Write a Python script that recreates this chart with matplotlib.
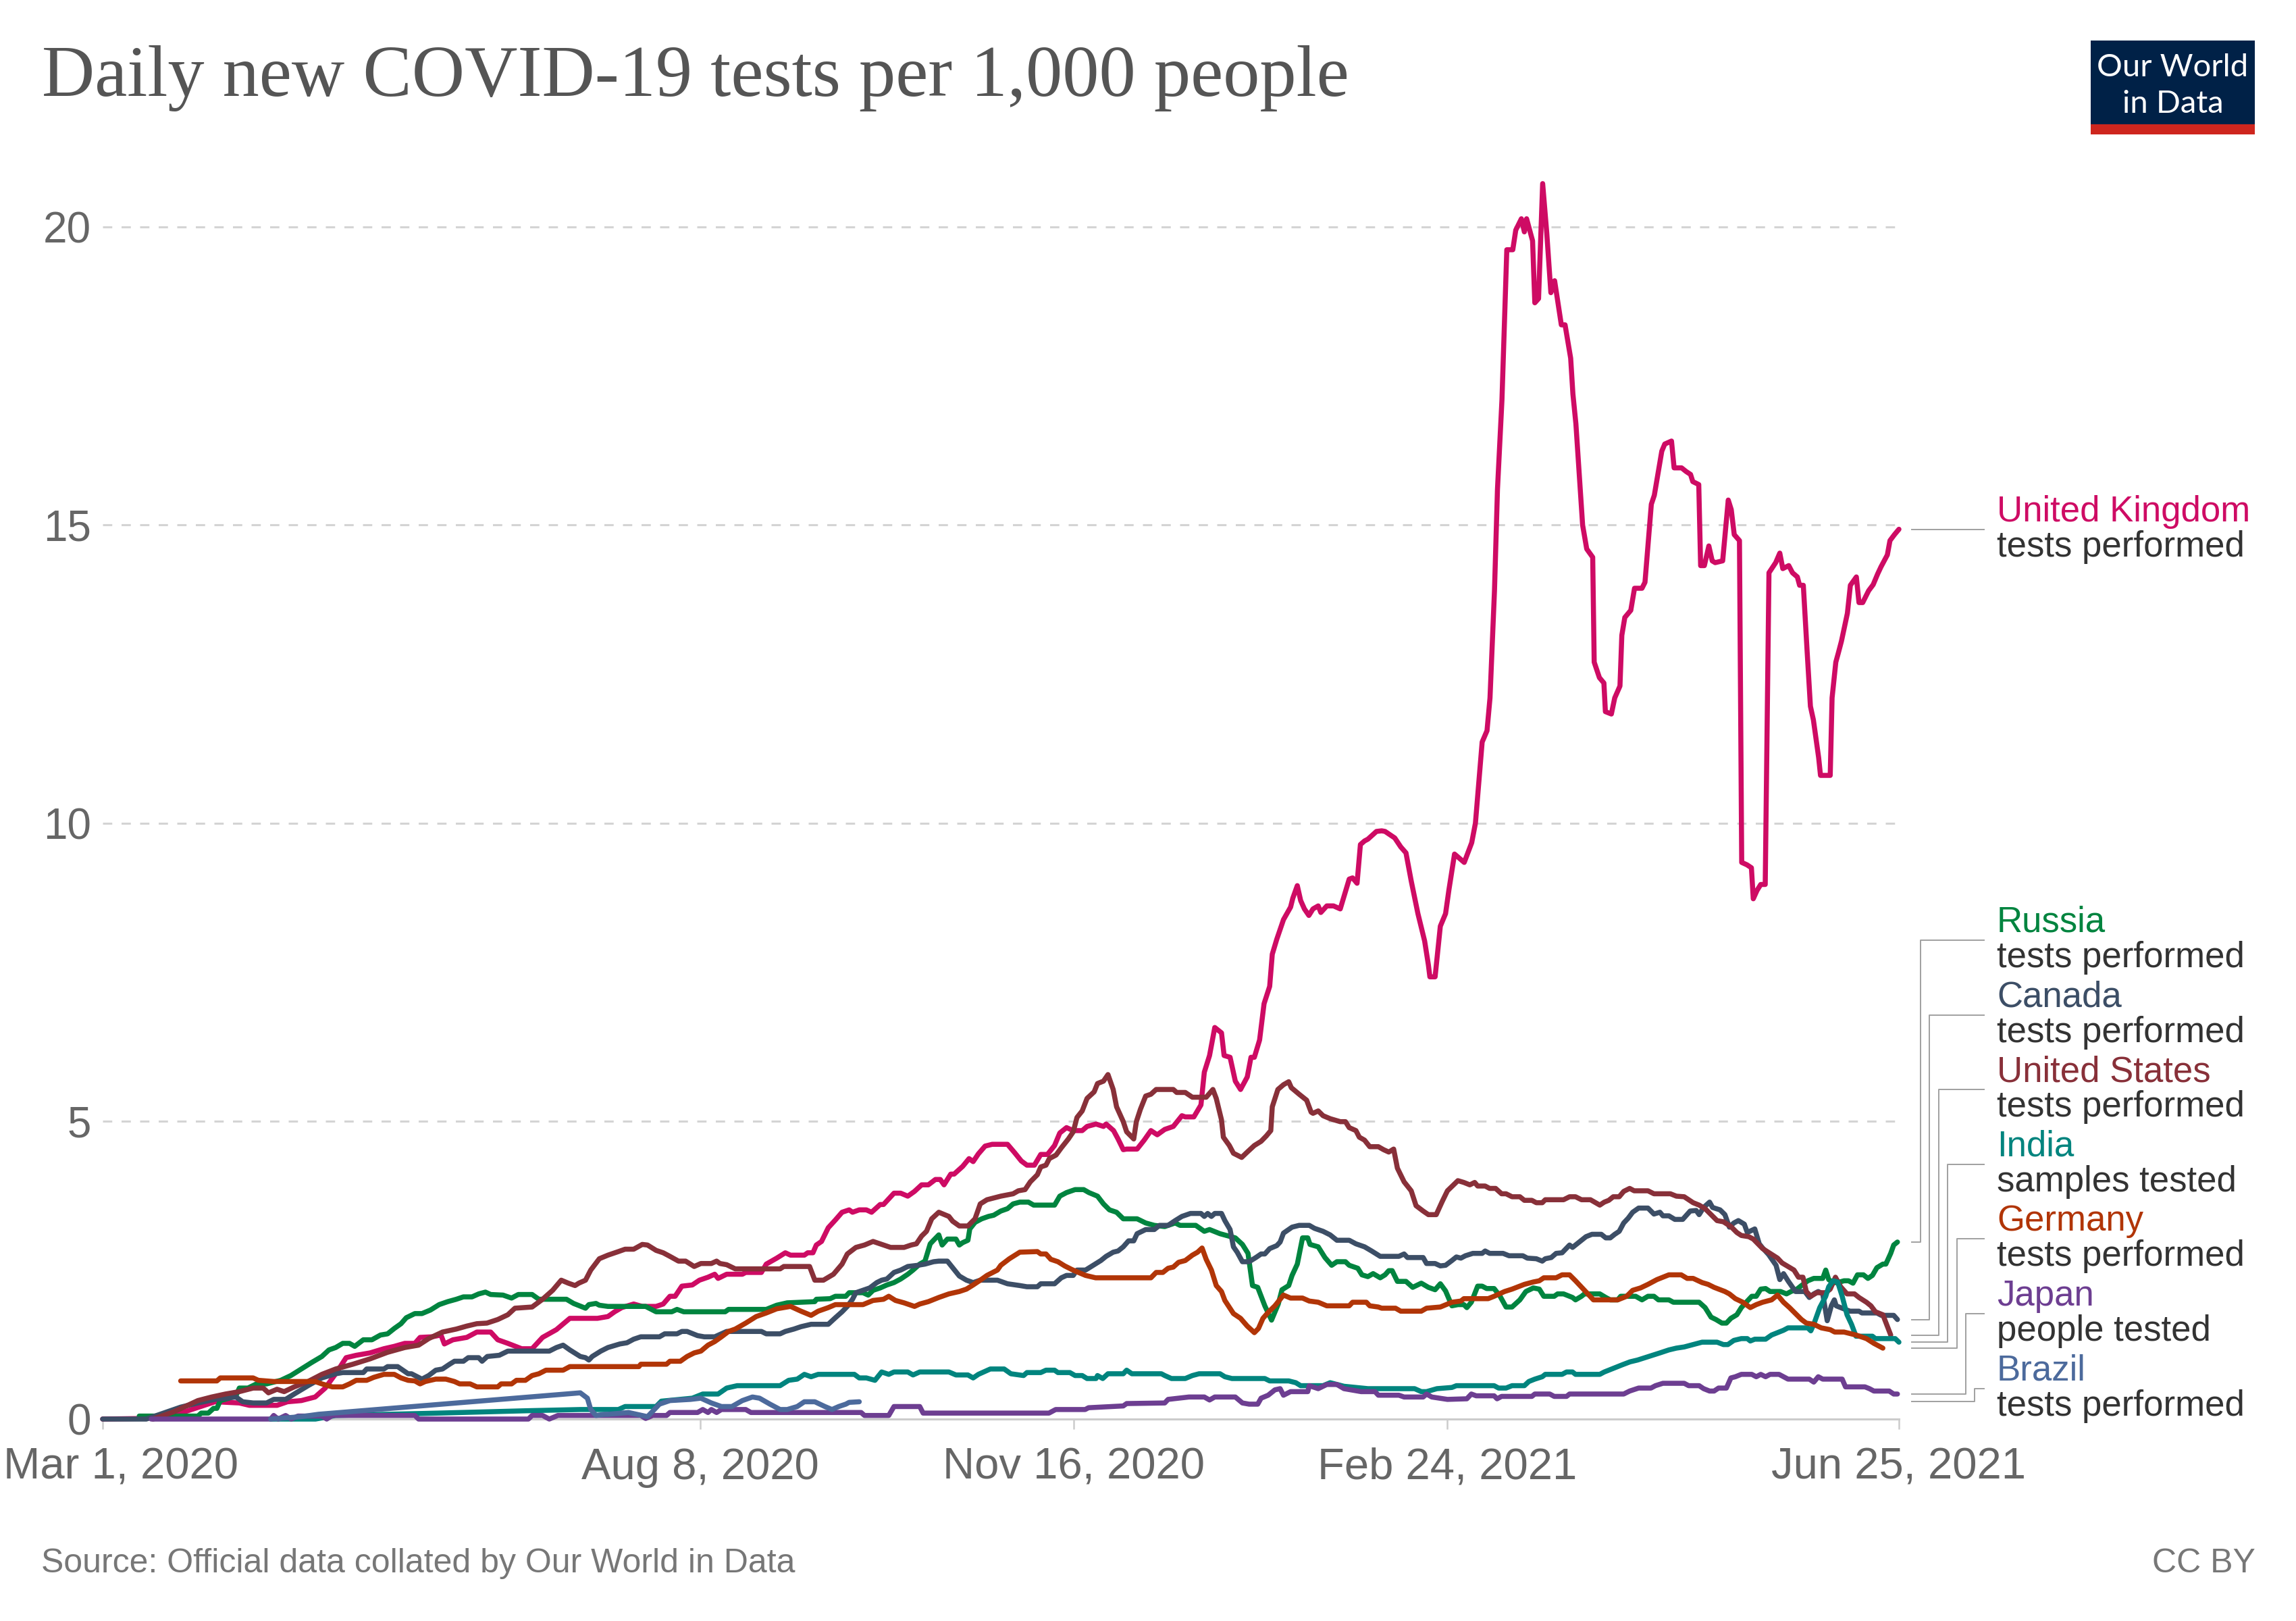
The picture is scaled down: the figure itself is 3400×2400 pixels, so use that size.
import matplotlib
matplotlib.use('Agg')
import matplotlib.pyplot as plt
import matplotlib.transforms as mtransforms
import pandas as pd
from matplotlib.lines import Line2D
from matplotlib.patches import Rectangle

# ---------------- data (day offset from Mar 1, 2020, tests per 1,000) ----------------
START = '2020-03-01'
END_DAY = 481
tick_dates = ['2020-03-01', '2020-08-08', '2020-11-16', '2021-02-24', '2021-06-25']
tick_labels = ['Mar 1, 2020', 'Aug 8, 2020', 'Nov 16, 2020', 'Feb 24, 2021', 'Jun 25, 2021']
y_ticks = [0, 5, 10, 15, 20]

uk = [(0,0),(11.7,0.01),(20.9,0.1),(30.1,0.29),(36.6,0.27),(39.3,0.23),(46.7,0.23),(49.5,0.29),(53.2,0.31),(56.9,0.37),(59.6,0.52),(62.4,0.76),(65.2,1.03),(67.9,1.07),(71.6,1.11),(75.3,1.18),(78.1,1.22),(80.9,1.27),(83.6,1.27),(85,1.37),(88.2,1.38),(90.6,1.41),(91.5,1.26),(93.8,1.33),(97.5,1.37),(100.2,1.46),(103.9,1.46),(105.8,1.33),(108.5,1.27),(112.2,1.18),(115,1.18),(117.8,1.37),(121.5,1.5),(125.1,1.69),(132.5,1.69),
      (135.3,1.72),(137.1,1.8),(139,1.87),(142.2,1.93),(144.5,1.89),(148.2,1.89),(150.1,1.93),(151.9,2.06),(153.3,2.06),(155.1,2.23),(157.9,2.25),(159.8,2.33),(162.1,2.38),(163.9,2.43),(164.8,2.36),(167.1,2.43),(171.3,2.43),(172.2,2.46),(176.4,2.46),(177.7,2.6),(180.5,2.7),(182.8,2.79),(184.2,2.75),(187.9,2.75),(188.8,2.79),(190.2,2.79),(191.1,2.92),(192.5,2.98),(194.3,3.21),(196.2,3.34),(198,3.47),(199.9,3.51),(200.8,3.47),(202.6,3.51),(204.5,3.51),(205.9,3.47),(208.2,3.6),(209.1,3.6),(211.9,3.79),(213.7,3.79),(215.6,3.74),(217.4,3.82),(219.3,3.93),(221.1,3.93),(223,4.02),(224.3,4.02),(225.3,3.93),(227.1,4.11),(228,4.11),(230.3,4.24),(232,4.37),(233.1,4.32),(234.5,4.45),(236.3,4.58),(238.2,4.61),(242.3,4.61),
      (244.2,4.47),(246,4.33),(247.5,4.26),(249.5,4.26),(251.2,4.44),(253,4.44),(254.9,4.59),(256.3,4.8),(258.1,4.89),(259.9,4.84),(262.3,4.84),(263.6,4.91),(266,4.95),(268,4.91),(268.7,4.95),(270.7,4.84),(271.9,4.7),(273.3,4.52),(274.2,4.53),(277,4.53),(278.9,4.68),(280.7,4.84),(282.4,4.77),(284.4,4.86),(286.7,4.91),(289,5.09),(289.9,5.07),(292.2,5.07),(294.1,5.27),(295,5.82),(296.4,6.1),(297.8,6.57),(299.6,6.48),(300.3,6.1),(301.9,6.07),(303.3,5.67),(304.7,5.53),(306.5,5.74),(307.5,6.07),(308.4,6.07),(309.8,6.36),(311,6.97),(312.5,7.26),(313.2,7.8),(314.4,8.05),(316.2,8.38),(318.1,8.59),(318.7,8.74),(319.9,8.95),(320.8,8.7),(321.8,8.56),(323,8.45),(324.1,8.56),(325.5,8.61),(326.2,8.5),(327.8,8.61),(329.6,8.61),(331.4,8.56),(332.8,8.85),(333.8,9.06),(334.7,9.08),(335.9,8.99),(336.8,9.64),(337.9,9.7),(338.8,9.73),(341.1,9.86),(342.5,9.87),(343.4,9.86),(344.8,9.8),(346,9.75),(347.6,9.6),(349,9.5),(350.4,9.03),(352.2,8.48),(354,8.02),(355,7.62),(355.4,7.42),(356.8,7.42),(358.2,8.27),(359.6,8.48),(360.5,8.88),
      (362,9.48),(364.6,9.34),(366.6,9.67),(367.6,10.0),(369.4,11.36),(370.7,11.55),(371.5,12.1),(372.7,13.9),(373.5,15.6),(374.7,17.1),(376,19.62),(377.6,19.62),(378.4,19.95),(379.9,20.14),(380.7,19.92),(381.3,20.14),(382.9,19.77),(383.5,18.73),(384.5,18.8),(385.6,20.73),(386.7,19.9),(387.8,18.9),(388.8,19.1),(390.6,18.36),(391.6,18.36),(393.1,17.8),(393.7,17.2),(394.5,16.7),(396.3,15.0),(397.4,14.6),(399,14.46),(399.4,12.7),(400.8,12.44),(402,12.35),(402.4,11.87),(404,11.83),(404.9,12.1),(406.3,12.3),(406.8,13.15),(407.6,13.45),(409.2,13.57),(410.2,13.94),(412.2,13.94),(413,14.04),(414.7,15.35),(415.5,15.5),(417.5,16.24),(418.3,16.36),(420.1,16.41),(420.8,15.96),(422.8,15.96),(424,15.9),(425.2,15.85),(425.8,15.73),(427.4,15.68),(427.9,14.32),(428.9,14.32),(430.1,14.65),(431,14.4),(431.8,14.37),(433.8,14.4),(435.3,15.42),(436.1,15.26),(436.9,14.84),(438.3,14.74),(438.9,9.34),(440.3,9.3),(441.5,9.25),(442,8.73),(443,8.87),(444,8.97),(445.2,8.97),(446.2,14.2),(448,14.37),(449.1,14.53),(449.9,14.27),(451.5,14.32),(452.5,14.2),(453.8,14.13),(454.4,13.99),(455.4,13.99),(456.4,12.9),(457.3,11.96),(458.1,11.73),(459.5,11.1),(460,10.8),(462.6,10.8),(463.1,12.1),(464.1,12.7),(464.8,12.86),(465.6,13.05),(467.2,13.52),(468,13.99),(469.6,14.13),(470.3,13.7),(471.3,13.7),(472.9,13.9),(474.1,14.0),(475.3,14.18),(476.2,14.3),(477.9,14.5),(478.6,14.74),(479.8,14.84),(481,14.93)]

us = [(13.5,0),(19,0.12),(25.5,0.31),(29.2,0.37),(32.9,0.42),(36.6,0.46),(40.3,0.52),(43,0.52),(44.4,0.44),(46.7,0.5),(48.6,0.46),(51.3,0.54),(55,0.63),(58.7,0.75),(62.4,0.84),(67,0.92),(71.6,1.01),(76.3,1.12),(80.9,1.2),(84.6,1.24),(87.3,1.35),(91,1.46),(94.7,1.51),(97.5,1.56),(100.2,1.6),(102.9,1.61),(105.8,1.67),(108.5,1.75),(110.4,1.86),(115,1.88),(117.8,2.01),(120.5,2.16),(122.8,2.33),(124.7,2.28),(126.5,2.24),(127.5,2.28),(129.3,2.33),(130.7,2.5),(133,2.69),
      (135.3,2.75),(138.1,2.81),(139.9,2.85),(142.2,2.85),(144.5,2.93),(145.9,2.92),(148.2,2.83),(150.1,2.79),(151.9,2.73),(154.2,2.65),(156.1,2.65),(158.4,2.56),(160.2,2.61),(163,2.61),(164.4,2.65),(165.3,2.61),(167.1,2.59),(169.4,2.52),(181.4,2.52),(182.4,2.56),(189.3,2.56),(190.7,2.33),(193,2.33),(195.7,2.43),(198,2.6),(199.4,2.77),(201.7,2.88),(204,2.92),(206.3,2.98),(208.2,2.94),(211,2.88),(214.6,2.88),(216.5,2.92),(217.9,2.94),(219.3,3.07),(220.6,3.15),(222,3.36),(223.9,3.47),(226.6,3.4),(227.6,3.32),(229.4,3.24),(231.7,3.24),(233.6,3.36),(235,3.61),(236.8,3.68),(240.5,3.74),
      (243.8,3.78),(245.2,3.83),(247,3.85),(248.4,3.98),(250.3,4.1),(251.2,4.23),(252.6,4.26),(253.5,4.37),(255.3,4.43),(256.7,4.55),(258.6,4.7),(259.9,4.82),(260.9,5.06),(262.3,5.17),(263.6,5.38),(265.5,5.49),(266.4,5.63),(268,5.67),(269.2,5.78),(270.6,5.53),(271.5,5.24),(273.3,4.99),(274.2,4.82),(276.1,4.7),(276.8,4.99),(277.9,5.2),(279.3,5.42),(280.7,5.45),(282.1,5.53),(286.7,5.53),(287.6,5.48),(289.9,5.48),(291.8,5.4),(295.5,5.4),(297.3,5.53),(298.2,5.38),(299.6,5.02),(300.1,4.73),(301.7,4.59),(302.8,4.46),(305,4.39),(306.5,4.48),(308.4,4.59),(310.2,4.66),(311.6,4.75),(312.8,4.84),(313.2,5.24),(314.7,5.53),(316.2,5.61),(317.6,5.66),(318.3,5.56),(320.4,5.45),(322.4,5.35),(323.6,5.15),(324.1,5.13),(325.5,5.17),(326.8,5.09),(328.7,5.04),(331.4,4.99),(332.8,4.99),(333.8,4.89),(335.6,4.84),(336.5,4.73),(337.9,4.68),(339.3,4.57),(341.6,4.57),(343,4.52),(344.4,4.48),(345.7,4.53),(346.7,4.21),(348.5,3.98),(350.4,3.83),(351.7,3.58),(353.6,3.49),(355,3.43),(357.1,3.43),(358.7,3.65),(360.1,3.83),
      (362.9,4.0),(364.5,3.97),(366.1,3.93),(367.4,3.97),(368.2,3.91),(370.2,3.91),(371.4,3.87),(373,3.87),(374.6,3.78),(375.8,3.78),(377.4,3.73),(379.5,3.73),(380.7,3.67),(382.7,3.67),(383.9,3.63),(385.5,3.63),(386.3,3.68),(391.2,3.68),(392.8,3.73),(394.4,3.73),(396,3.68),(398.4,3.68),(400.9,3.59),(402.1,3.64),(403.3,3.67),(404.5,3.73),(406.1,3.73),(407.3,3.82),(408.9,3.87),(410.1,3.83),(413.8,3.83),(415.4,3.78),(419.8,3.78),(421.4,3.74),(423.5,3.73),(425.9,3.63),(427.5,3.59),(429.1,3.53),(430.7,3.43),(432.3,3.33),(434,3.31),(436,3.23),(437.6,3.13),(438.8,3.08),(440.8,3.06),(442,3.02),(444.5,2.86),(446.5,2.78),(448.5,2.7),(449.7,2.62),(451.3,2.56),(452.9,2.5),(454.1,2.38),(455.3,2.38),(456.2,2.14),(457.4,2.06),(459,2.12),(461.4,2.12),(462.6,2.18),(464,2.38),(465.4,2.22),(467.1,2.1),(469.1,2.1),(470.3,2.04),(472.3,1.96),(473.5,1.9),(474.7,1.8),(476.7,1.75),(478.8,1.41)]

canada = [(0,0),(11.7,0),(16.3,0.1),(20.9,0.2),(25.5,0.27),(30.1,0.33),(35.7,0.37),(37.5,0.29),(40.3,0.27),(43.9,0.27),(45.8,0.33),(49,0.33),(51.3,0.42),(55,0.56),(58.7,0.69),(62.4,0.76),(64.3,0.78),(69.8,0.78),(70.7,0.84),(75.3,0.84),(76.3,0.88),(79,0.88),(81.8,0.76),(82.7,0.76),(85.5,0.67),(87.3,0.73),(89.2,0.82),(91,0.84),(92.9,0.92),(94.2,0.97),(96.6,0.97),(97.9,1.03),(100.7,1.03),(101.6,0.97),(103,1.05),(106.2,1.07),(108.5,1.14),(119.6,1.14),(121.5,1.2),(123.3,1.24),(125.1,1.16),(127.9,1.05),(129.3,1.03),(130.2,0.99),(131.1,1.05),(133.4,1.14),
      (135.3,1.2),(138.5,1.26),(140.4,1.28),(142.2,1.34),(144.1,1.38),(149.1,1.38),(150.5,1.43),(153.8,1.43),(155.1,1.47),(156.5,1.47),(159.3,1.4),(161.1,1.38),(163.9,1.38),(165.7,1.43),(167.1,1.47),(176.4,1.47),(177.7,1.43),(181.4,1.43),(182.8,1.47),(185.1,1.51),(187,1.55),(189.7,1.59),(194.3,1.59),(196.2,1.7),(198,1.8),(199.4,1.89),(200.8,2.01),(201.7,2.12),(203.1,2.15),(205.4,2.2),(207.3,2.29),(208.6,2.33),(210,2.35),(211.9,2.46),(213.7,2.5),(215.6,2.56),(218.3,2.58),(220.2,2.6),(222.5,2.64),(223.9,2.65),(226.2,2.65),(227.6,2.54),(229.4,2.4),(231.3,2.33),(233.1,2.29),(235,2.33),(239.6,2.33),(242.3,2.27),
      (245.6,2.24),(247.5,2.22),(250.3,2.22),(251.2,2.27),(254.9,2.27),(256.7,2.37),(258.1,2.41),(259.9,2.41),(260.9,2.5),(263.2,2.5),(265,2.57),(267.3,2.66),(268.7,2.73),(270.6,2.8),(271.9,2.82),(273.3,2.89),(274.7,2.99),(276.1,2.99),(277,3.11),(279.3,3.18),(281.6,3.18),(283,3.25),(285.3,3.25),(287.2,3.33),(289,3.4),(291.3,3.45),(294.1,3.45),(295,3.4),(295.9,3.45),(296.9,3.4),(297.8,3.45),(299.6,3.45),(300.5,3.33),(301.9,3.18),(302.8,2.89),(303.8,2.8),(305.2,2.64),(307,2.64),(308.8,2.71),(310.2,2.77),(311.2,2.77),(312.5,2.86),(314.4,2.91),(315.3,2.97),(316.2,3.12),(318.5,3.22),(320.4,3.25),(323.1,3.25),(324.5,3.2),(326.8,3.15),(328.7,3.09),(330.5,3.0),(333.8,3.0),(335.6,2.94),(337.9,2.89),(339.8,2.82),(342.1,2.73),(347.1,2.73),(348.5,2.77),(349.4,2.71),(353.6,2.71),(354.5,2.61),(356.8,2.61),(358.2,2.57),(359.6,2.58),
      (361.3,2.66),(362.5,2.72),(363.7,2.7),(364.9,2.74),(366.9,2.78),(369.4,2.78),(370.2,2.82),(371.4,2.78),(375,2.78),(376.6,2.74),(380.3,2.74),(381.5,2.7),(383.9,2.69),(385.5,2.65),(386.3,2.69),(387.9,2.71),(389.2,2.78),(390.8,2.79),(392.8,2.92),(393.6,2.88),(395.2,2.96),(397.2,3.06),(398.8,3.1),(401.3,3.1),(402.5,3.04),(403.7,3.04),(404.9,3.1),(406.1,3.15),(407.3,3.29),(408.5,3.37),(409.7,3.47),(411.3,3.54),(413.8,3.54),(415.4,3.44),(417,3.47),(417.8,3.41),(419.4,3.41),(421,3.35),(423.1,3.35),(425.1,3.49),(426.7,3.5),(427.5,3.43),(428.7,3.55),(430.3,3.64),(431.1,3.55),(433.1,3.51),(434.4,3.43),(435.6,3.22),(436.8,3.29),(438,3.33),(439.6,3.27),(440.4,3.13),(442.4,3.19),(443.6,2.94),(444.5,2.87),(446.1,2.76),(448.1,2.58),(449.1,2.34),(450.1,2.44),(451.3,2.32),(453.3,2.14),(455.8,2.14),(457,2.04),(458.2,2.1),(459.4,2.14),(460.6,2.1),(461.8,1.65),(462.9,1.9),(463.7,2.0),(464.2,1.9),(466.2,1.85),(467.9,1.81),(470.3,1.81),(471.1,1.78),(475.1,1.78),(476.3,1.74),(479.6,1.74),(480.6,1.67)]

russia = [(9.8,0.05),(25.5,0.05),(26.4,0.1),(28.3,0.1),(29.7,0.18),(30.6,0.18),(31.5,0.31),(33.8,0.35),(35.7,0.39),(36.6,0.52),(38.9,0.52),(41.2,0.59),(43.9,0.59),(47.7,0.65),(50.4,0.73),(53.2,0.84),(56,0.95),(58.7,1.05),(60.6,1.16),(62.4,1.2),(64.3,1.27),(66.1,1.27),(67.5,1.22),(69.8,1.33),(72.1,1.33),(74.4,1.41),(76.3,1.43),(78.1,1.52),(79.9,1.6),(81.3,1.7),(83.6,1.77),(85.5,1.77),(87.8,1.83),(90.1,1.92),(92.4,1.97),(94.7,2.01),(96.6,2.05),(98.9,2.05),(100.7,2.1),(102.5,2.13),(103.9,2.09),(107.2,2.08),(109.5,2.03),(111.3,2.09),(115,2.09),(116.8,2.01),(124.2,2.01),(126.1,1.94),(129.3,1.86),(130.2,1.92),(132.1,1.94),(133,1.91),
      (135.3,1.89),(145.4,1.89),(148.2,1.8),(152.4,1.8),(153.8,1.84),(155.6,1.8),(166.7,1.8),(167.6,1.84),(177.7,1.84),(180.5,1.91),(183.3,1.95),(190.7,1.97),(191.1,2.01),(194.8,2.02),(196.2,2.06),(199,2.06),(199.9,2.12),(203.6,2.12),(205,2.08),(206.3,2.16),(208.2,2.2),(210,2.25),(211.9,2.29),(213.7,2.35),(215.6,2.43),(217,2.5),(218.8,2.6),(220.2,2.65),(221.6,2.94),(222.5,3.0),(223.9,3.09),(224.8,2.92),(226.2,3.02),(228.5,3.02),(229.4,2.92),(230.3,2.96),(231.7,3.0),(232.2,3.19),(233.6,3.3),(235.4,3.36),(237.2,3.4),(238.6,3.42),(240.5,3.49),(242.3,3.53),
      (243.8,3.61),(245.6,3.64),(247.9,3.64),(249.3,3.59),(254.9,3.59),(256.3,3.74),(258.1,3.8),(260.4,3.85),(262.7,3.85),(264.1,3.8),(266.4,3.74),(268,3.61),(269.6,3.51),(271.5,3.47),(273.3,3.36),(277,3.36),(279.3,3.29),(281.6,3.25),(284.4,3.23),(287.2,3.29),(288.5,3.25),(292.7,3.25),(295,3.15),(296.4,3.18),(299.2,3.11),(301.5,3.07),(303.3,3.04),(305.2,2.93),(306.7,2.78),(307.9,2.24),(309.3,2.21),(311.2,1.9),(313,1.66),(314.8,1.93),(315.8,2.17),(317.6,2.24),(318.5,2.41),(319.9,2.6),(321.3,3.04),(322.7,3.04),(323.3,2.93),(325.5,2.89),(327.3,2.71),(329.1,2.58),(330.5,2.64),(332.8,2.64),(333.8,2.58),(336.1,2.53),(337.2,2.42),(338.8,2.39),(340.2,2.44),(342.1,2.37),(343.4,2.42),(344.4,2.49),(345.3,2.49),(346.7,2.31),(349,2.31),(350.8,2.21),(353.1,2.28),(355,2.21),(356.8,2.17),(358.2,2.27),(359.6,2.15),
      (361.3,1.9),(362.9,1.92),(364.5,1.92),(365.3,1.87),(366.5,1.96),(368.2,2.23),(369.4,2.23),(370.6,2.19),(372.6,2.19),(374.2,2.06),(375.8,1.88),(377.4,1.88),(379.5,2.0),(381.1,2.14),(383.1,2.2),(384.7,2.18),(385.9,2.06),(388.7,2.06),(389.6,2.1),(391.2,2.1),(392.4,2.07),(393.6,2.04),(394.4,2.0),(396,2.06),(396.8,2.1),(400.9,2.1),(402.5,2.04),(403.7,2.0),(405.7,2.0),(406.5,2.06),(410.5,2.06),(412.2,2.0),(413.8,2.06),(415.4,2.06),(416.6,2.0),(419.4,2.0),(420.6,1.96),(427.5,1.96),(429.1,1.87),(430.7,1.71),(432,1.67),(433.6,1.61),(434.8,1.61),(436,1.69),(437.6,1.75),(438.8,1.87),(440.4,1.98),(441.6,2.06),(442.8,2.06),(444,2.18),(445.3,2.19),(446.5,2.14),(449.3,2.14),(450.9,2.1),(452.1,2.14),(453.7,2.18),(454.9,2.24),(456.6,2.32),(458.2,2.36),(460.6,2.36),(461.4,2.5),(462.2,2.34),(463.4,2.29),(464.6,2.29),(466.3,2.32),(467.5,2.32),(468.7,2.28),(469.9,2.42),(471.5,2.42),(472.7,2.36),(473.9,2.41),(475.1,2.54),(476.7,2.6),(477.5,2.6),(478.8,2.78),(479.6,2.92),(480.6,2.97)]

germany = [(20.9,0.64),(30.6,0.64),(31.5,0.69),(40.3,0.69),(41.7,0.65),(45.8,0.63),(56.9,0.63),(58.7,0.59),(61.5,0.54),(64.3,0.54),(66.1,0.59),(67.9,0.65),(70.7,0.65),(72.6,0.7),(75.3,0.75),(78.1,0.75),(79.9,0.69),(81.8,0.65),(83.6,0.64),(85,0.59),(86.4,0.63),(89.2,0.67),(91.9,0.67),(94.2,0.63),(95.6,0.59),(98.4,0.59),(100.2,0.54),(105.8,0.54),(106.7,0.59),(109.5,0.59),(110.8,0.65),(113.2,0.65),(115,0.73),(116.8,0.76),(118.7,0.82),(123.3,0.82),(125.1,0.88),(135.3,0.88),(143.6,0.88),(144.1,0.92),(151,0.92),(151.9,0.97),(154.7,0.97),(156.5,1.05),(158.4,1.11),(160.2,1.14),(162.1,1.24),(163.9,1.3),(165.7,1.38),(167.6,1.47),(169.4,1.51),(172.2,1.61),(175,1.72),(177.7,1.78),(180.5,1.85),(184.2,1.89),(187,1.81),(189.7,1.74),(191.6,1.81),(194.3,1.87),(196.2,1.92),(203.6,1.92),(206.3,1.99),(209.1,2.01),(210.5,2.06),(212.3,1.99),(214.6,1.95),(217.4,1.89),(218.8,1.93),(221.1,1.97),(223.9,2.04),(226.6,2.1),(229.4,2.14),(231.3,2.18),(233.1,2.25),(235,2.33),(236.8,2.41),(239.6,2.5),(240.5,2.58),(242.8,2.69),
      (245.6,2.8),(250.3,2.81),(251.2,2.77),(252.6,2.77),(253.9,2.68),(255.8,2.64),(257.6,2.57),(259.5,2.51),(261.3,2.46),(263.2,2.41),(265.9,2.37),(280.7,2.37),(282.1,2.46),(283.9,2.46),(285.3,2.53),(286.7,2.55),(288.1,2.63),(289.9,2.66),(291.8,2.75),(293.2,2.8),(294.4,2.87),(295.5,2.68),(296.9,2.5),(298.2,2.24),(299.6,2.14),(300.5,1.99),(302.8,1.77),(304.7,1.69),(306.5,1.56),(308.4,1.45),(309.5,1.52),(310.7,1.69),(312.1,1.79),(313.9,1.9),(316.2,2.08),(318.1,2.03),(321.3,2.03),(323.1,1.98),(325.5,1.96),(327.8,1.9),(333.8,1.9),(334.7,1.96),(338.4,1.96),(339.3,1.9),(341.6,1.88),(342.5,1.86),(346.2,1.86),(347.6,1.81),(353.1,1.81),(354.5,1.86),(358.2,1.88),
      (361.3,1.96),(363.7,1.98),(364.5,2.02),(371,2.02),(372.6,2.06),(375.4,2.14),(377.4,2.18),(380.7,2.26),(383.1,2.3),(384.7,2.32),(385.9,2.37),(389.2,2.37),(390.8,2.42),(392.8,2.42),(394.4,2.32),(396.8,2.16),(399.2,2.0),(405.7,2.0),(408.1,2.06),(409.7,2.16),(411.8,2.2),(413.8,2.26),(416.2,2.34),(419.4,2.42),(422.7,2.42),(424.3,2.36),(425.9,2.36),(428.3,2.29),(429.9,2.26),(431.5,2.21),(434.4,2.14),(435.6,2.1),(437.2,2.02),(439.2,1.96),(441.2,1.87),(442.8,1.92),(444.5,1.96),(446.9,2.0),(448.5,2.08),(450.1,1.96),(451.7,1.87),(453.3,1.77),(454.9,1.67),(456.2,1.61),(458.2,1.59),(460.2,1.53),(462.6,1.5),(463.8,1.46),(466.3,1.46),(469.5,1.41),(472.3,1.35),(474.3,1.27),(476.7,1.19)]

india = [(45,0),(57,0),(62.4,0.06),(90,0.1),(114,0.14),(128,0.16),(135.3,0.16),(138.1,0.16),(139.9,0.21),(148.2,0.21),(149.6,0.3),(157.9,0.35),(160.7,0.42),(164.8,0.42),(167.1,0.52),(169.9,0.56),(181.4,0.56),(183.7,0.65),(186,0.67),(187.9,0.75),(189.7,0.71),(191.6,0.75),(201.3,0.75),(202.6,0.69),(204.5,0.69),(206.8,0.65),(208.6,0.79),(210.5,0.75),(211.9,0.79),(215.6,0.79),(217,0.74),(218.8,0.79),(226.6,0.79),(228.5,0.74),(231.7,0.74),(233.1,0.69),(234.5,0.75),(237.7,0.84),(241.4,0.84),(243.2,0.76),(246.6,0.73),(247.5,0.78),(251.2,0.78),(252.6,0.82),(254.9,0.82),(255.8,0.78),(259,0.78),(260.4,0.73),(262.3,0.73),(263.6,0.68),(266,0.68),(266.4,0.73),(267.8,0.68),(269.2,0.76),(273.3,0.76),(274.2,0.82),(275.6,0.76),(283.5,0.76),(284.4,0.73),(286.2,0.68),(289.9,0.68),(291.8,0.73),(293.6,0.76),(299.2,0.76),(300.5,0.71),(302.4,0.68),(311.2,0.68),(312.5,0.64),(317.6,0.64),(319.5,0.61),(320.8,0.56),(326.8,0.56),(328.7,0.61),(332.4,0.55),(338.8,0.51),(351.3,0.51),(353.1,0.46),(354.5,0.46),(357.3,0.51),(361.3,0.53),(362.5,0.56),(372.6,0.56),(373.8,0.52),(375.8,0.52),(377.4,0.56),(380.7,0.56),(381.9,0.63),(383.5,0.67),(385.5,0.71),(386.3,0.75),(390.8,0.75),(392,0.79),(393.6,0.79),(394.4,0.75),(400.9,0.75),(402.1,0.79),(403.7,0.83),(405.3,0.87),(406.9,0.91),(409,0.96),(411,0.99),(413,1.03),(415,1.07),(417,1.11),(419.4,1.16),(421.4,1.19),(423.5,1.21),(425.9,1.25),(428.3,1.29),(432.3,1.29),(434,1.25),(435.2,1.25),(436.8,1.32),(438.8,1.35),(440.4,1.35),(441.2,1.31),(442.4,1.34),(445.3,1.34),(446.9,1.41),(448.5,1.45),(450.1,1.49),(451.3,1.53),(456.6,1.53),(457.4,1.48),(458.2,1.59),(459.8,1.87),(461.4,2.06),(462.2,2.22),(463.4,2.32),(464.6,2.3),(465.8,2.06),(467.1,1.75),(468.3,1.59),(469.5,1.39),(473.9,1.39),(474.7,1.35),(480,1.35),(481,1.29)]

japan = [(13,0),(45,0),(45.8,0.06),(47,0.0),(49,0.06),(50.5,0.0),(52.3,0.05),(58.7,0.05),(60,0.0),(61.5,0.06),(83.6,0.06),(84.6,0),(114,0),(115,0.06),(117.8,0.06),(119.6,0),(121.9,0.06),(144.1,0.06),(145.4,0.01),(147.3,0.06),(151,0.06),(151.9,0.11),(159.3,0.11),(160.7,0.16),(162.1,0.11),(163,0.16),(164.4,0.11),(165.7,0.16),(172.2,0.16),(173.6,0.11),(203.1,0.11),(204,0.06),(210.5,0.06),(211.9,0.21),(218.8,0.21),(219.7,0.1),(253.4,0.1),(255.2,0.16),(263.1,0.16),(264,0.19),(273.3,0.22),(274.2,0.26),(284.4,0.27),(285.3,0.33),(290.9,0.37),(295,0.37),(296.4,0.32),(297.8,0.37),(303.3,0.37),(305.2,0.27),(307,0.25),(309.3,0.25),(310.2,0.35),(312.1,0.4),(313.9,0.49),(315.3,0.51),(316.2,0.4),(318.1,0.46),(322.7,0.46),(323.1,0.56),(325.5,0.51),(327.8,0.58),(330.5,0.58),(332.4,0.51),(337,0.46),(340.7,0.46),(341.6,0.4),(347.1,0.4),(348.5,0.37),(353.6,0.37),(354.5,0.42),(355.9,0.37),(360.1,0.33),(365.3,0.34),(366.5,0.42),(367.8,0.39),(372.6,0.39),(373.4,0.34),(374.6,0.38),(382.7,0.38),(383.5,0.42),(387.5,0.42),(388.7,0.38),(392,0.38),(392.8,0.42),(407.3,0.42),(408.9,0.47),(411.3,0.52),(414.6,0.52),(415.8,0.56),(417.8,0.6),(423.5,0.6),(424.7,0.56),(427.5,0.56),(428.7,0.51),(430.3,0.47),(431.5,0.47),(432.7,0.52),(434.8,0.52),(436,0.69),(437.2,0.71),(438.8,0.75),(441.6,0.75),(442.8,0.71),(444,0.75),(445.3,0.71),(446.5,0.75),(448.9,0.75),(451.3,0.67),(457,0.67),(458.2,0.62),(459.4,0.71),(460.6,0.67),(465.8,0.67),(466.7,0.54),(471.9,0.54),(473.1,0.51),(474.3,0.47),(478.4,0.47),(479.6,0.42),(480.6,0.42)]

brazil = [(45,0),(53.2,0.04),(57.8,0.08),(127.9,0.44),(129.8,0.35),(130.7,0.16),(132.1,0.06),(134.4,0.08),(135.3,0.08),(140.8,0.11),(145.9,0.04),(149.1,0.25),(151.9,0.31),(157.4,0.33),(160.2,0.35),(163,0.27),(165.7,0.21),(168.5,0.21),(171.3,0.31),(174,0.37),(175.9,0.35),(178.7,0.25),(181.4,0.16),(183.3,0.16),(186,0.21),(187.9,0.29),(190.7,0.29),(193.4,0.21),(195.3,0.16),(197.1,0.21),(199,0.25),(199.9,0.28),(202.6,0.29)]

names = ['United Kingdom', 'Russia', 'Canada', 'United States', 'India', 'Germany', 'Japan', 'Brazil']
subtitles = ['tests performed', 'tests performed', 'tests performed', 'tests performed',
             'samples tested', 'tests performed', 'people tested', 'tests performed']
colors = ['#CE0B64', '#00843F', '#3C4E66', '#883039', '#00847E', '#B13507', '#6D3E91', '#4C6A9C']
datasets = [uk, russia, canada, us, india, germany, japan, brazil]

# ---------------- figure ----------------
W, H = 3400, 2400
fig = plt.figure(figsize=(W / 100, H / 100), dpi=100)
fig.patch.set_facecolor('white')
SANS = ['Liberation Sans', 'DejaVu Sans']

def fx(x):
    return x / W

def fy(y):
    return 1 - y / H

AX_L, AX_R, AX_B, AX_T = 152, 2812, 2101, 248
ax = fig.add_axes([fx(AX_L), fy(AX_B), (AX_R - AX_L) / W, (AX_B - AX_T) / H])

t0 = pd.Timestamp(START)

def to_dates(days):
    return t0 + pd.to_timedelta(days, unit='D')

draw_order = [6, 7, 4, 5, 2, 1, 3, 0]
for i in draw_order:
    d = datasets[i]
    xs = to_dates([p[0] for p in d])
    ys = [p[1] for p in d]
    ax.plot(xs, ys, color=colors[i], lw=5.4, solid_joinstyle='round', solid_capstyle='round',
            zorder=3 + i * 0.01, clip_on=False)

ax.set_xlim(t0, to_dates([END_DAY])[0])
ax.set_ylim(0, 21)

for yv in y_ticks[1:]:
    ax.axhline(yv, color='#d4d4d4', lw=2.2, ls=(0, (4.5, 4.5)), zorder=1)

for s in ['top', 'right', 'left']:
    ax.spines[s].set_visible(False)
ax.spines['bottom'].set_color('#cccccc')
ax.spines['bottom'].set_linewidth(2.2)
ax.spines['bottom'].set_zorder(2)

ax.set_yticks(y_ticks)
ax.set_yticklabels([str(v) for v in y_ticks])
ax.tick_params(axis='y', length=0, pad=12, labelsize=46, labelcolor='#666666')
for lab in ax.get_yticklabels():
    lab.set_fontfamily(SANS)

ax.set_xticks(pd.to_datetime(tick_dates))
ax.set_xticklabels(tick_labels)
ax.tick_params(axis='x', length=11, width=1.8, color='#cccccc', pad=19,
               labelsize=47, labelcolor='#666666')
xlabs = ax.get_xticklabels()
for lab in xlabs:
    lab.set_fontfamily(SANS)
# first label nudged right so it stays inside the canvas, as in the original
xlabs[0].set_transform(xlabs[0].get_transform() +
                       mtransforms.ScaledTranslation(0.27, 0, fig.dpi_scale_trans))

# ---------------- title, source, logo ----------------
fig.text(fx(62), fy(142), 'Daily new COVID-19 tests per 1,000 people',
         fontfamily=['Liberation Serif', 'DejaVu Serif'], fontsize=78, color='#555555',
         ha='left', va='baseline')
fig.text(fx(61), fy(2328), 'Source: Official data collated by Our World in Data',
         fontfamily=SANS, fontsize=36, color='#777777', ha='left', va='baseline')
fig.text(fx(3340), fy(2328), 'CC BY', fontfamily=SANS, fontsize=36, color='#777777',
         ha='right', va='baseline')

fig.patches.append(Rectangle((fx(3096), fy(184)), (3339 - 3096) / W, (184 - 60) / H,
                             transform=fig.transFigure, facecolor='#002147', edgecolor='none'))
fig.patches.append(Rectangle((fx(3096), fy(199)), (3339 - 3096) / W, (199 - 184) / H,
                             transform=fig.transFigure, facecolor='#CE261E', edgecolor='none'))
fig.text(fx(3217.5), fy(113), 'Our World', fontfamily=['Lato', 'DejaVu Sans'], fontsize=34,
         color='white', ha='center', va='baseline')
fig.text(fx(3217.5), fy(167), 'in Data', fontfamily=['Lato', 'DejaVu Sans'], fontsize=34,
         color='white', ha='center', va='baseline')

# ---------------- labels with leader lines ----------------
LINE_C = '#a0a0a0'
X_START, X_END, TEXT_X = 2831, 2938, 2957
HALF = 26

def end_px(d):
    xd = to_dates([d[-1][0]])[0]
    disp = ax.transData.transform((matplotlib.dates.date2num(xd), d[-1][1]))
    return H - disp[1]

def put_label(i, ymid):
    fig.text(fx(TEXT_X), fy(ymid - HALF), names[i], fontfamily=SANS, fontsize=38,
             color=colors[i], ha='left', va='center')
    fig.text(fx(TEXT_X), fy(ymid + HALF), subtitles[i], fontfamily=SANS, fontsize=38,
             color='#333333', ha='left', va='center')

# United Kingdom: straight leader at the value of its last point
uk_y = end_px(uk)
fig.add_artist(Line2D([fx(X_START), fx(X_END)], [fy(uk_y), fy(uk_y)], color=LINE_C, lw=1.4,
                      transform=fig.transFigure))
put_label(0, uk_y)

# remaining series: stacked labels with elbow connectors
LABEL_TOP, LABEL_STEP = 1392, 110.6
ELBOW0, ELBOW_STEP = 2844, 13.4
for k, i in enumerate(range(1, 8)):
    ymid = LABEL_TOP + k * LABEL_STEP
    yend = end_px(datasets[i])
    xe = ELBOW0 + k * ELBOW_STEP
    xs_ = [fx(X_END), fx(xe), fx(xe), fx(X_START)]
    ys_ = [fy(ymid), fy(ymid), fy(yend), fy(yend)]
    fig.add_artist(Line2D(xs_, ys_, color=LINE_C, lw=1.4, transform=fig.transFigure))
    put_label(i, ymid)

fig.savefig('out.png', dpi=100, facecolor='white')
